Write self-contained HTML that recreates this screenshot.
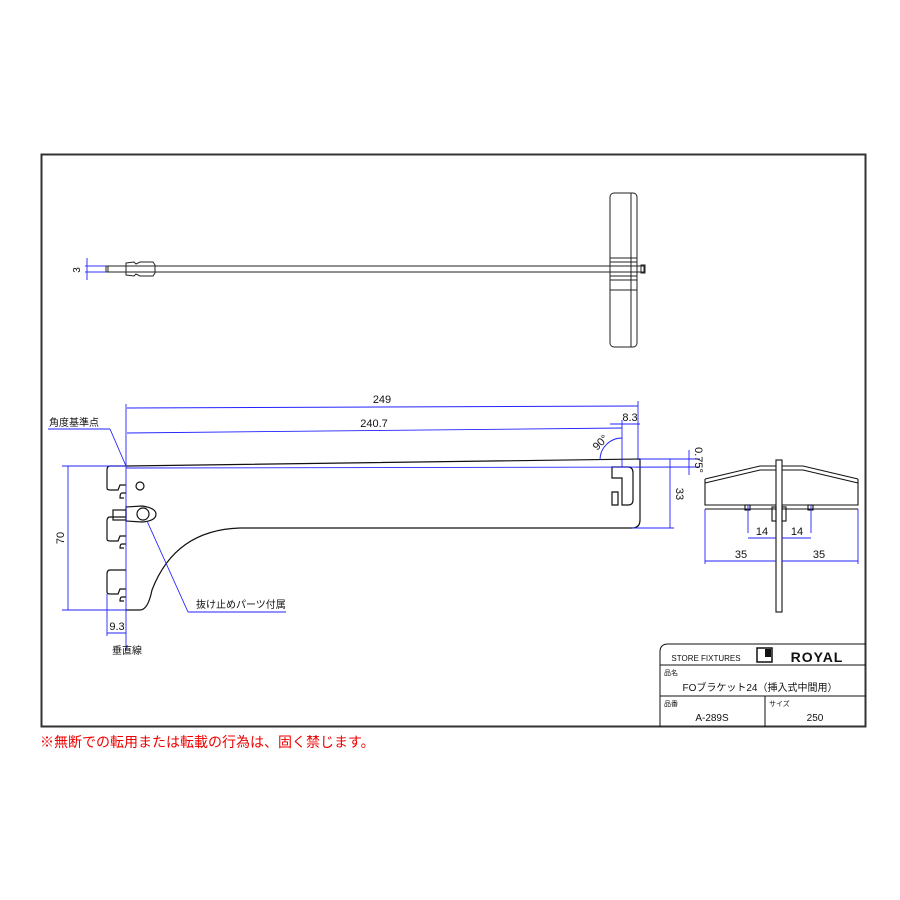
<!DOCTYPE html>
<html><head><meta charset="utf-8"><style>
body{margin:0;background:#fff;width:900px;height:900px;overflow:hidden}
svg{display:block}
text{font-family:"Liberation Sans","Noto Sans CJK JP",sans-serif}
</style></head><body>
<svg width="900" height="900" viewBox="0 0 900 900">
<rect x="41.5" y="154.5" width="824" height="572" fill="none" stroke="#333" stroke-width="2"/>
<!-- top view -->
<g stroke="#222" fill="none" stroke-width="1">
<rect x="106" y="266" width="538" height="6"/>
<line x1="108" y1="266" x2="108" y2="272"/>
<rect x="641" y="265" width="4" height="8"/>
<path d="M126 263 L134 262 L136 264 L140 262 L153 262 L155 265 L155 273 L153 276 L140 276 L136 274 L134 276 L126 275 Z"/>
<rect x="610" y="193" width="27" height="154" rx="4"/>
<line x1="631" y1="193" x2="631" y2="347"/>
<line x1="610" y1="258" x2="637" y2="258"/><line x1="610" y1="262" x2="637" y2="262"/>
<line x1="610" y1="276" x2="637" y2="276"/><line x1="610" y1="280" x2="637" y2="280"/>
<line x1="610" y1="290" x2="637" y2="290"/>
</g>
<g stroke="#33f" fill="none" stroke-width="1">
<line x1="87" y1="258" x2="87" y2="280"/><line x1="85" y1="266" x2="106" y2="266"/><line x1="85" y1="272" x2="106" y2="272"/>
</g>
<text x="80" y="270" font-size="10" transform="rotate(-90 80 270)" text-anchor="middle">3</text>
<!-- side view bracket -->
<g stroke="#111" fill="none" stroke-width="1.2">
<path d="M126 466 L640 459 L640 520 Q640 528 632 528 L240 528 Q175 530 152 590 Q148 610 140 610 L126 610"/>
<path d="M126 466 L110 466 Q107 466 107 470 L107 488 Q107 490 110 490 L118 490 L120 485 L126 485 M126 493 L122 493 Q120 493 120 498 L124 498"/>
<path d="M126 517 L110 517 Q107 517 107 521 L107 539 Q107 541 110 541 L118 541 L120 536 L126 536 M126 544 L122 544 Q120 544 120 548 L124 548"/>
<path d="M126 570 L110 570 Q107 570 107 574 L107 592 Q107 594 110 594 L118 594 L120 589 L126 589 M126 597 L122 597 Q120 597 120 601 L124 601"/>
<circle cx="140" cy="486" r="4"/>
<rect x="113" y="510" width="13" height="10"/>
<path d="M126 507 L142 506 Q156 508 156 514 Q156 521 142 522 L126 521 Z"/>
<circle cx="143" cy="514" r="6"/>
<path d="M612 467 L628 467 Q633 467 633 473 L633 500 Q633 505 628 505 L622 505 L622 478 L612 478 Z M612 492 L618 492 L618 505 L612 505 Z"/>
</g>
<g stroke="#22f" fill="none" stroke-width="0.9">
<line x1="126" y1="404" x2="126" y2="650"/>
<line x1="127" y1="408" x2="638" y2="406"/>
<line x1="127" y1="433" x2="622" y2="428"/>
<line x1="638" y1="401" x2="638" y2="460"/>
<line x1="622" y1="420" x2="622" y2="467"/>
<line x1="610" y1="424" x2="640" y2="424"/>
<path d="M600 460 A22 22 0 0 1 622 438"/>
<line x1="62" y1="466" x2="126" y2="466"/>
<line x1="126" y1="468" x2="700" y2="467"/>
<line x1="640" y1="459" x2="700" y2="459"/>
<line x1="62" y1="610" x2="126" y2="610"/>
<line x1="68" y1="466" x2="68" y2="610"/>
<line x1="107" y1="594" x2="107" y2="636"/>
<line x1="107" y1="633" x2="126" y2="633"/>
<line x1="632" y1="528" x2="674" y2="528"/>
<line x1="670" y1="459" x2="670" y2="528"/>
<line x1="689" y1="450" x2="689" y2="475"/>
<line x1="48" y1="429" x2="110" y2="429"/><line x1="110" y1="429" x2="126" y2="466"/>
<line x1="147" y1="521" x2="188" y2="612"/><line x1="188" y1="612" x2="286" y2="612"/>
</g>
<g font-size="11" fill="#111">
<text x="382" y="403" text-anchor="middle">249</text>
<text x="374" y="427" text-anchor="middle">240.7</text>
<text x="630" y="421" text-anchor="middle">8.3</text>
<text x="603" y="445" transform="rotate(-45 603 445)" text-anchor="middle">90°</text>
<text x="695" y="460" transform="rotate(90 695 460)" text-anchor="middle">0.75°</text>
<text x="676" y="494" transform="rotate(90 676 494)" text-anchor="middle">33</text>
<text x="64" y="538" transform="rotate(-90 64 538)" text-anchor="middle">70</text>
<text x="117" y="630" text-anchor="middle">9.3</text>
<text x="49" y="426" font-size="10">角度基準点</text>
<text x="196" y="608" font-size="10">抜け止めパーツ付属</text>
<text x="112" y="654" font-size="10">垂直線</text>
</g>
<!-- end view -->
<g stroke="#111" fill="none" stroke-width="1.1">
<rect x="776" y="460" width="6" height="152"/>
<path d="M705 479 L760 466 L776 466 M705 483 L760 470 L776 470 M705 479 L705 505 L776 505 M705 509 L776 509"/>
<path d="M858 479 L803 466 L782 466 M858 483 L803 470 L782 470 M858 479 L858 505 L782 505 M858 509 L782 509"/>
<rect x="745" y="505" width="5" height="5"/><rect x="808" y="505" width="5" height="5"/>
<rect x="772" y="507" width="4" height="14"/><rect x="782" y="507" width="4" height="14"/>
</g>
<g stroke="#22f" fill="none" stroke-width="0.9">
<line x1="748" y1="505" x2="748" y2="533"/><line x1="811" y1="505" x2="811" y2="533"/>
<line x1="748" y1="538" x2="776" y2="538"/><line x1="782" y1="538" x2="811" y2="538"/>
<line x1="705" y1="509" x2="705" y2="564"/><line x1="858" y1="509" x2="858" y2="564"/>
<line x1="705" y1="561" x2="776" y2="561"/><line x1="782" y1="561" x2="858" y2="561"/>
</g>
<g font-size="11" fill="#111" text-anchor="middle">
<text x="762" y="535">14</text><text x="797" y="535">14</text>
<text x="741" y="558">35</text><text x="819" y="558">35</text>
</g>
<!-- title block -->
<g stroke="#111" fill="none" stroke-width="1">
<path d="M660 727 L660 652 Q660 644 668 644 L866 644"/>
<line x1="660" y1="665" x2="866" y2="665"/>
<line x1="660" y1="696" x2="866" y2="696"/>
<line x1="765" y1="696" x2="765" y2="727"/>
<rect x="757" y="648" width="15" height="14" stroke-width="1.5"/>
</g>
<rect x="765" y="649" width="6" height="8" fill="#111"/>
<text x="706" y="661" font-size="8" text-anchor="middle" fill="#111">STORE FIXTURES</text>
<text x="817" y="662" font-size="14" font-weight="bold" text-anchor="middle" fill="#111" letter-spacing="1">ROYAL</text>
<text x="664" y="675" font-size="7" fill="#111">品名</text>
<text x="760" y="691" font-size="10" text-anchor="middle" fill="#111">FOブラケット24（挿入式中間用）</text>
<text x="664" y="706" font-size="7" fill="#111">品番</text>
<text x="769" y="706" font-size="7" fill="#111">サイズ</text>
<text x="712" y="721" font-size="10" text-anchor="middle" fill="#111">A-289S</text>
<text x="815" y="721" font-size="10" text-anchor="middle" fill="#111">250</text>
<text x="40" y="747" font-size="14" fill="#e00">※無断での転用または転載の行為は、固く禁じます。</text>
</svg>
</body></html>
